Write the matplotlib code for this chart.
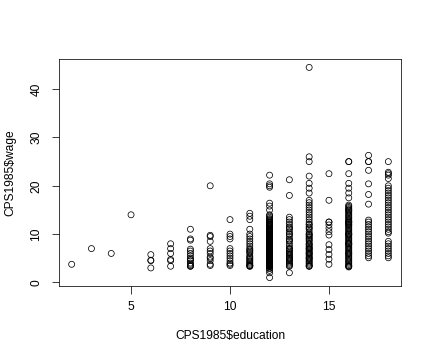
import numpy as np
import matplotlib
matplotlib.use("Agg")
import matplotlib.pyplot as plt

# wages, one list per education level (years)
wage_edu2 = [3.75]
wage_edu3 = [7.0]
wage_edu4 = [6.0]
wage_edu5 = [14.0]
wage_edu6 = [5.75, 4.6, 4.5, 3.0]
wage_edu7 = [8.0, 7.0, 6.0, 4.75, 4.5, 3.35]
wage_edu8 = [11.0, 9.0, 8.75, 6.88, 6.5, 6.0, 5.5, 5.0, 4.75, 4.5,
             4.0, 3.75, 3.5, 3.35, 3.35]
wage_edu9 = [20.0, 9.75, 9.5, 8.5, 7.0, 6.5, 6.0, 5.25, 5.0, 4.5,
             3.75, 3.5]
wage_edu10 = [13.0, 10.0, 9.5, 9.0, 7.0, 6.5, 6.0, 5.5, 5.0, 4.5,
              4.0, 3.75, 3.5]
wage_edu11 = [14.3, 13.7, 13.0, 11.0, 10.0, 9.5, 9.0, 8.5, 8.0, 7.5,
              7.0, 6.75, 6.5, 6.25, 6.0, 5.5, 5.25, 5.0, 4.75, 4.5,
              4.25, 4.0, 3.75, 3.5, 3.5, 3.35, 3.35]
wage_edu12 = [22.2, 20.4, 20.0, 19.7, 16.4, 15.8, 15.0, 14.0, 13.75, 13.5,
              13.2, 13.0, 12.75, 12.5, 12.5, 12.25, 12.0, 12.0, 12.0, 11.8,
              11.5, 11.25, 11.25, 11.0, 11.0, 10.8, 10.6, 10.5, 10.5, 10.25,
              10.0, 10.0, 10.0, 10.0, 9.9, 9.75, 9.6, 9.5, 9.5, 9.4,
              9.25, 9.2, 9.0, 9.0, 9.0, 8.9, 8.75, 8.75, 8.6, 8.5,
              8.5, 8.5, 8.4, 8.25, 8.1, 8.0, 8.0, 8.0, 8.0, 7.9,
              7.8, 7.75, 7.6, 7.5, 7.5, 7.5, 7.5, 7.45, 7.3, 7.25,
              7.14, 7.0, 7.0, 7.0, 7.0, 7.0, 6.9, 6.8, 6.75, 6.67,
              6.6, 6.5, 6.5, 6.5, 6.5, 6.4, 6.35, 6.25, 6.25, 6.2,
              6.15, 6.1, 6.0, 6.0, 6.0, 6.0, 6.0, 6.0, 5.9, 5.85,
              5.8, 5.75, 5.7, 5.65, 5.6, 5.5, 5.5, 5.5, 5.5, 5.5,
              5.45, 5.4, 5.3, 5.25, 5.25, 5.2, 5.15, 5.1, 5.0, 5.0,
              5.0, 5.0, 5.0, 5.0, 4.95, 4.9, 4.85, 4.8, 4.75, 4.75,
              4.7, 4.65, 4.6, 4.55, 4.5, 4.5, 4.5, 4.5, 4.5, 4.45,
              4.4, 4.35, 4.3, 4.25, 4.25, 4.2, 4.15, 4.1, 4.0, 4.0,
              4.0, 4.0, 4.0, 3.95, 3.9, 3.85, 3.8, 3.75, 3.75, 3.7,
              3.65, 3.6, 3.55, 3.5, 3.5, 3.5, 3.5, 3.45, 3.4, 3.35,
              3.35, 3.35, 3.35, 3.35, 3.35, 3.35, 3.35, 3.35, 3.35, 3.35,
              3.3, 3.0, 2.85, 2.5, 2.0, 1.0, 8.2, 6.3, 5.35, 4.4,
              9.8, 8.8, 7.7, 6.9, 5.95, 4.95, 4.05, 3.85, 12.35, 10.75,
              9.35, 8.3, 7.35, 6.45, 5.55, 4.6, 3.65, 11.6, 10.3, 7.05,
              6.0, 5.0, 4.5, 3.35, 7.5, 6.25, 8.0, 10.0, 12.0]
wage_edu13 = [21.25, 18.0, 13.5, 13.0, 12.5, 12.0, 11.5, 11.25, 11.0, 10.5,
              10.0, 10.0, 9.5, 9.0, 8.75, 8.5, 8.0, 7.5, 7.0, 7.0,
              6.75, 6.5, 6.25, 6.0, 5.75, 5.5, 5.25, 5.0, 5.0, 4.75,
              4.5, 4.25, 4.0, 3.75, 3.5, 3.35, 2.0]
wage_edu14 = [44.5, 26.0, 25.0, 22.0, 20.5, 19.5, 18.5, 17.0, 16.5, 16.0,
              15.5, 15.0, 14.5, 14.0, 13.5, 13.0, 12.5, 12.0, 12.0, 11.5,
              11.0, 10.5, 10.0, 10.0, 9.75, 9.5, 9.0, 8.75, 8.5, 8.0,
              8.0, 7.75, 7.5, 7.25, 7.0, 7.0, 6.75, 6.5, 6.25, 6.0,
              6.0, 5.75, 5.5, 5.25, 5.0, 5.0, 4.75, 4.5, 4.25, 4.0,
              3.75, 3.5, 3.35, 3.35, 9.25, 11.25]
wage_edu15 = [22.5, 17.0, 12.5, 12.5, 11.9, 11.2, 10.5, 9.8, 7.8, 6.8,
              5.8, 4.8, 3.75]
wage_edu16 = [25.0, 25.0, 22.5, 20.5, 19.5, 18.5, 17.5, 16.0, 15.75, 15.5,
              15.25, 15.0, 14.75, 14.5, 14.25, 14.0, 13.75, 13.5, 13.25, 13.0,
              12.75, 12.5, 12.5, 12.25, 12.0, 12.0, 11.75, 11.5, 11.25, 11.0,
              10.75, 10.5, 10.25, 10.0, 10.0, 9.75, 9.5, 9.25, 9.0, 8.75,
              8.5, 8.25, 8.0, 8.0, 7.75, 7.5, 7.25, 7.0, 6.75, 6.5,
              6.25, 6.0, 5.75, 5.5, 5.25, 5.0, 4.75, 4.5, 4.25, 4.0,
              3.75, 3.5, 3.35, 3.35, 3.2, 15.0, 12.5, 10.0, 8.0, 6.0]
wage_edu17 = [26.3, 25.0, 25.0, 23.2, 20.4, 18.2, 16.2, 12.9, 12.5, 12.0,
              11.5, 11.0, 10.5, 10.0, 9.5, 9.0, 8.5, 8.0, 7.5, 7.0,
              6.5, 6.0, 5.5, 5.1]
wage_edu18 = [25.0, 22.8, 22.5, 22.2, 21.5, 20.0, 19.5, 19.0, 18.5, 18.0,
              17.5, 17.0, 16.5, 16.0, 15.5, 15.0, 14.5, 14.0, 13.5, 13.0,
              12.5, 12.0, 11.5, 11.0, 10.5, 10.2, 8.5, 8.0, 7.5, 7.0,
              6.5, 6.0, 5.5, 5.1]

wages_by_edu = {
    2: wage_edu2, 3: wage_edu3, 4: wage_edu4, 5: wage_edu5,
    6: wage_edu6, 7: wage_edu7, 8: wage_edu8, 9: wage_edu9,
    10: wage_edu10, 11: wage_edu11, 12: wage_edu12, 13: wage_edu13,
    14: wage_edu14, 15: wage_edu15, 16: wage_edu16, 17: wage_edu17,
    18: wage_edu18,
}

education = np.concatenate([[e] * len(w) for e, w in wages_by_edu.items()])
wage = np.concatenate([w for w in wages_by_edu.values()])

plt.rcParams['font.family'] = ['Liberation Sans', 'DejaVu Sans']
plt.rcParams['font.size'] = 12

fig = plt.figure(figsize=(6, 5), dpi=72)
ax = fig.add_axes([59 / 432, 74 / 360, 342 / 432, 227 / 360])

ax.scatter(education, wage, s=36, facecolors='none', edgecolors='black',
           linewidths=0.75)

# R style 4% padding on both axes
xr = education.max() - education.min()
yr = wage.max() - wage.min()
ax.set_xlim(education.min() - 0.04 * xr, education.max() + 0.04 * xr)
ax.set_ylim(wage.min() - 0.04 * yr, wage.max() + 0.04 * yr)

ax.set_xticks([5, 10, 15])
ax.set_yticks([0, 10, 20, 30, 40])
ax.tick_params(direction='out', length=7.5, width=0.75, colors='black',
               labelsize=12)
ax.tick_params(axis='x', pad=7)
ax.tick_params(axis='y', pad=9)
for lab in ax.get_yticklabels():
    lab.set_rotation(90)
    lab.set_va('center')
    lab.set_ha('right')

for sp in ax.spines.values():
    sp.set_linewidth(0.75)
    sp.set_color('black')

ax.set_xlabel(r"CPS1985\$education", fontsize=12)
ax.set_ylabel(r"CPS1985\$wage", fontsize=12)
ax.xaxis.set_label_coords(0.5, (286 - 336) / 227)
ax.xaxis.label.set_va('center')
ax.yaxis.set_label_coords((10 - 59) / 342, 0.5)
ax.yaxis.label.set_va('center')

fig.savefig("out.png", dpi=72)
